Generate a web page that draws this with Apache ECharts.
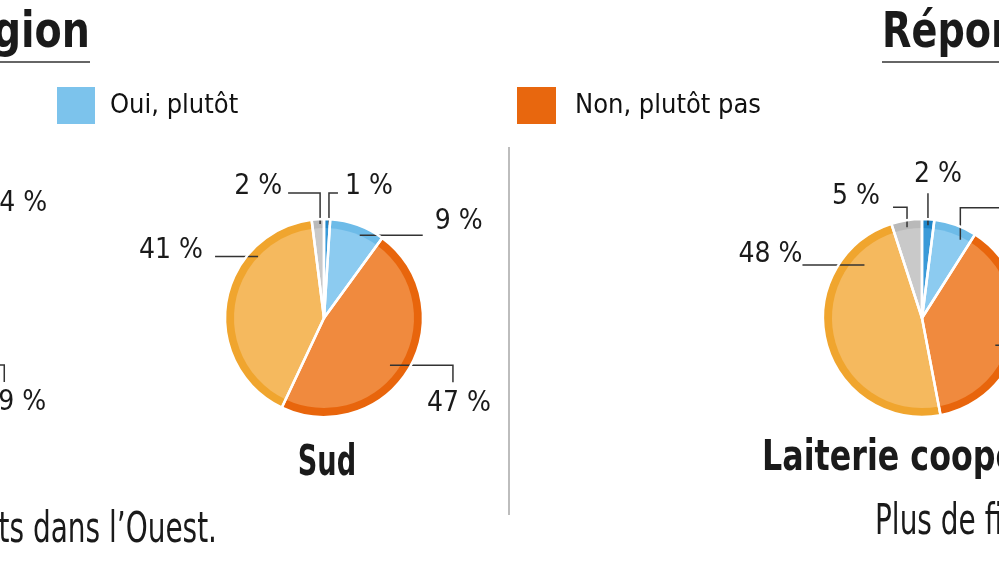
<!DOCTYPE html>
<html><head><meta charset="utf-8">
<script src="https://cdn.jsdelivr.net/npm/echarts@6/dist/echarts.min.js"></script>
<style>html,body{margin:0;padding:0;background:#fff}#c{width:999px;height:562px}</style>
</head><body><div id="c"></div>
<script>
// ---- data ----
const categories = ['Oui, tout à fait', 'Oui, plutôt', 'Non, plutôt pas', 'Non, pas du tout', 'Sans opinion'];
const valuesOuest = [3, 24, 39, 31, 3];
const valuesSud = [1, 9, 47, 41, 2];
const valuesLaiterie = [2, 7, 38, 48, 5];
const legendItems = ['Oui, plutôt', 'Non, plutôt pas'];
const headerLeft = 'Par région';
const headerRight = 'Réponses par type de laiterie';
const captionSud = 'Sud';
const captionLaiterie = 'Laiterie coopérative';
const footLeft = 'Les éleveurs sont plus satisfaits dans l’Ouest.';
const footRight = 'Plus de fidélité dans les coopératives.';

// ---- styles ----
const F = "'Liberation Sans Narrow','DejaVu Sans Condensed','Roboto Condensed','Liberation Sans',sans-serif";
const ringColors = ['#1f86c9', '#6dbbe8', '#e8650c', '#f0a52e', '#b9b9b9'];
const fillColors = ['#3a9ad8', '#8ccbf0', '#f08a3e', '#f5b95e', '#c9c9c9'];
const legendColors = ['#7cc3ec', '#e8670e'];
const R = 99, RIN = 90;

// label geometry: anchor inside slice (t = fraction of slice angle, k = fraction of radius), leader moves, label offset
const geoOuest = [
  {t:.5, k:.94, path:[[0,-32],[9,0]], dx:7, dy:-6, align:'left'},
  {t:.34, k:.91, path:[[0,-30],[38,0]], dx:12, dy:-15, align:'left'},
  {t:.2, k:.82, path:[[63,0],[0,17]], dx:10, dy:21, align:'center'},
  {t:.5, k:.9, path:[[-43,0]], dx:-12, dy:-7, align:'right'},
  {t:.5, k:.95, path:[[0,-31],[-32,0]], dx:-6, dy:-6, align:'right'}
];
const geoSud = [
  {t:.85, k:.94, path:[[0,-32],[9,0]], dx:7, dy:-6, align:'left'},
  {t:.61, k:.91, path:[[63,0]], dx:12, dy:-14, align:'left'},
  {t:.53, k:.82, path:[[63,0],[0,17]], dx:6, dy:21, align:'center'},
  {t:.73, k:.91, path:[[-43,0]], dx:-12, dy:-6, align:'right'},
  {t:.67, k:.95, path:[[0,-31],[-32,0]], dx:-6, dy:-6, align:'right'}
];
const geoLaiterie = [
  {t:.51, k:.94, path:[[0,-32]], dx:10, dy:-18, align:'center'},
  {t:.75, k:.88, path:[[0,-32],[50,0]], dx:12, dy:-15, align:'left'},
  {t:.57, k:.79, path:[[60,0],[0,17]], dx:6, dy:21, align:'center'},
  {t:.83, k:.79, path:[[-62,0]], dx:0, dy:-10, align:'right'},
  {t:.48, k:.93, path:[[0,-20],[-14,0]], dx:-13, dy:-10, align:'right'}
];

const chart = echarts.init(document.getElementById('c'), null, {renderer:'canvas'});

function makeLayout(geo) {
  return function (p) {
    const s = chart.getModel().getSeriesByIndex(p.seriesIndex);
    const lay = s.getData().getItemLayout(p.dataIndex);
    const g = geo[p.dataIndex];
    const a = lay.startAngle + g.t * (lay.endAngle - lay.startAngle);
    let x = lay.cx + g.k * lay.r * Math.cos(a);
    let y = lay.cy + g.k * lay.r * Math.sin(a);
    const pts = [[x, y]];
    g.path.forEach(function (m) { x += m[0]; y += m[1]; pts.push([x, y]); });
    return { x: x + g.dx, y: y + g.dy, align: g.align, verticalAlign: 'middle', labelLinePoints: pts };
  };
}

function pie(values, center, geo) {
  const base = { type:'pie', center: center, startAngle: 90, clockwise: true, animation: false, silent: true, avoidLabelOverlap: false };
  const mk = function (cols) { return values.map(function (v, i) { return { name: categories[i], value: v, itemStyle: { color: cols[i] } }; }); };
  return [
    Object.assign({}, base, { z: 2, radius: R, data: mk(ringColors), label: {show:false}, labelLine: {show:false} }),
    Object.assign({}, base, { z: 3, radius: RIN, data: mk(fillColors), label: {show:false}, labelLine: {show:false} }),
    Object.assign({}, base, { z: 5, radius: R,
      data: values.map(function (v, i) { return { name: categories[i], value: v }; }),
      itemStyle: { color: 'rgba(0,0,0,0)', borderColor: '#fff', borderWidth: 2.5 },
      label: { show: true, position: 'outside', formatter: '{c} %', fontFamily: F, fontSize: 28, color: '#1a1a1a' },
      labelLine: { show: true, lineStyle: { color: '#333', width: 1.5 } },
      labelLayout: makeLayout(geo) })
  ];
}

const legendCommon = { orient:'horizontal', padding: 0, itemWidth: 38, itemHeight: 37, icon: 'rect', selectedMode: false,
  textStyle: { fontFamily: F, fontSize: 27, color: '#111', padding: [0,0,0,10] } };

chart.setOption({
  backgroundColor: '#fff',
  legend: [
    Object.assign({}, legendCommon, { left: 57, top: 87, data: [{ name: legendItems[0], itemStyle: { color: legendColors[0] } }] }),
    Object.assign({}, legendCommon, { left: 517, top: 87, itemWidth: 39,
      textStyle: { fontFamily: F, fontSize: 27, color: '#111', padding: [0,0,0,14] },
      data: [{ name: legendItems[1], itemStyle: { color: legendColors[1] } }] })
  ],
  series: [].concat(
    pie(valuesOuest, [-125, 318], geoOuest),
    pie(valuesSud, [324, 318], geoSud),
    pie(valuesLaiterie, [922, 318], geoLaiterie)
  ),
  graphic: [
    { type:'text', x: 90, y: 34, scaleX: 0.88, style: { text: headerLeft, fontFamily: F, fontWeight: 'bold', fontSize: 50, fill: '#1a1a1a', align: 'right', verticalAlign: 'middle' } },
    { type:'line', shape: { x1: 0, y1: 62, x2: 90, y2: 62 }, style: { stroke: '#666', lineWidth: 2 } },
    { type:'text', x: 882, y: 34, scaleX: 0.85, style: { text: headerRight, fontFamily: F, fontWeight: 'bold', fontSize: 50, fill: '#1a1a1a', align: 'left', verticalAlign: 'middle' } },
    { type:'line', shape: { x1: 882, y1: 62, x2: 999, y2: 62 }, style: { stroke: '#666', lineWidth: 2 } },
    { type:'line', shape: { x1: 509, y1: 147, x2: 509, y2: 515 }, style: { stroke: '#bdbdbd', lineWidth: 2 } },
    { type:'text', x: 327, y: 464, scaleX: 0.72, style: { text: captionSud, fontFamily: F, fontWeight: 'bold', fontSize: 42, fill: '#1a1a1a', align: 'center', verticalAlign: 'middle' } },
    { type:'text', x: 762, y: 459, scaleX: 0.84, style: { text: captionLaiterie, fontFamily: F, fontWeight: 'bold', fontSize: 42, fill: '#1a1a1a', align: 'left', verticalAlign: 'middle' } },
    { type:'text', x: 217, y: 531, scaleX: 0.74, style: { text: footLeft, fontFamily: F, fontSize: 42, fill: '#1a1a1a', align: 'right', verticalAlign: 'middle' } },
    { type:'text', x: 875, y: 523, scaleX: 0.74, style: { text: footRight, fontFamily: F, fontSize: 42, fill: '#1a1a1a', align: 'left', verticalAlign: 'middle' } }
  ]
});
</script>
</body></html>
